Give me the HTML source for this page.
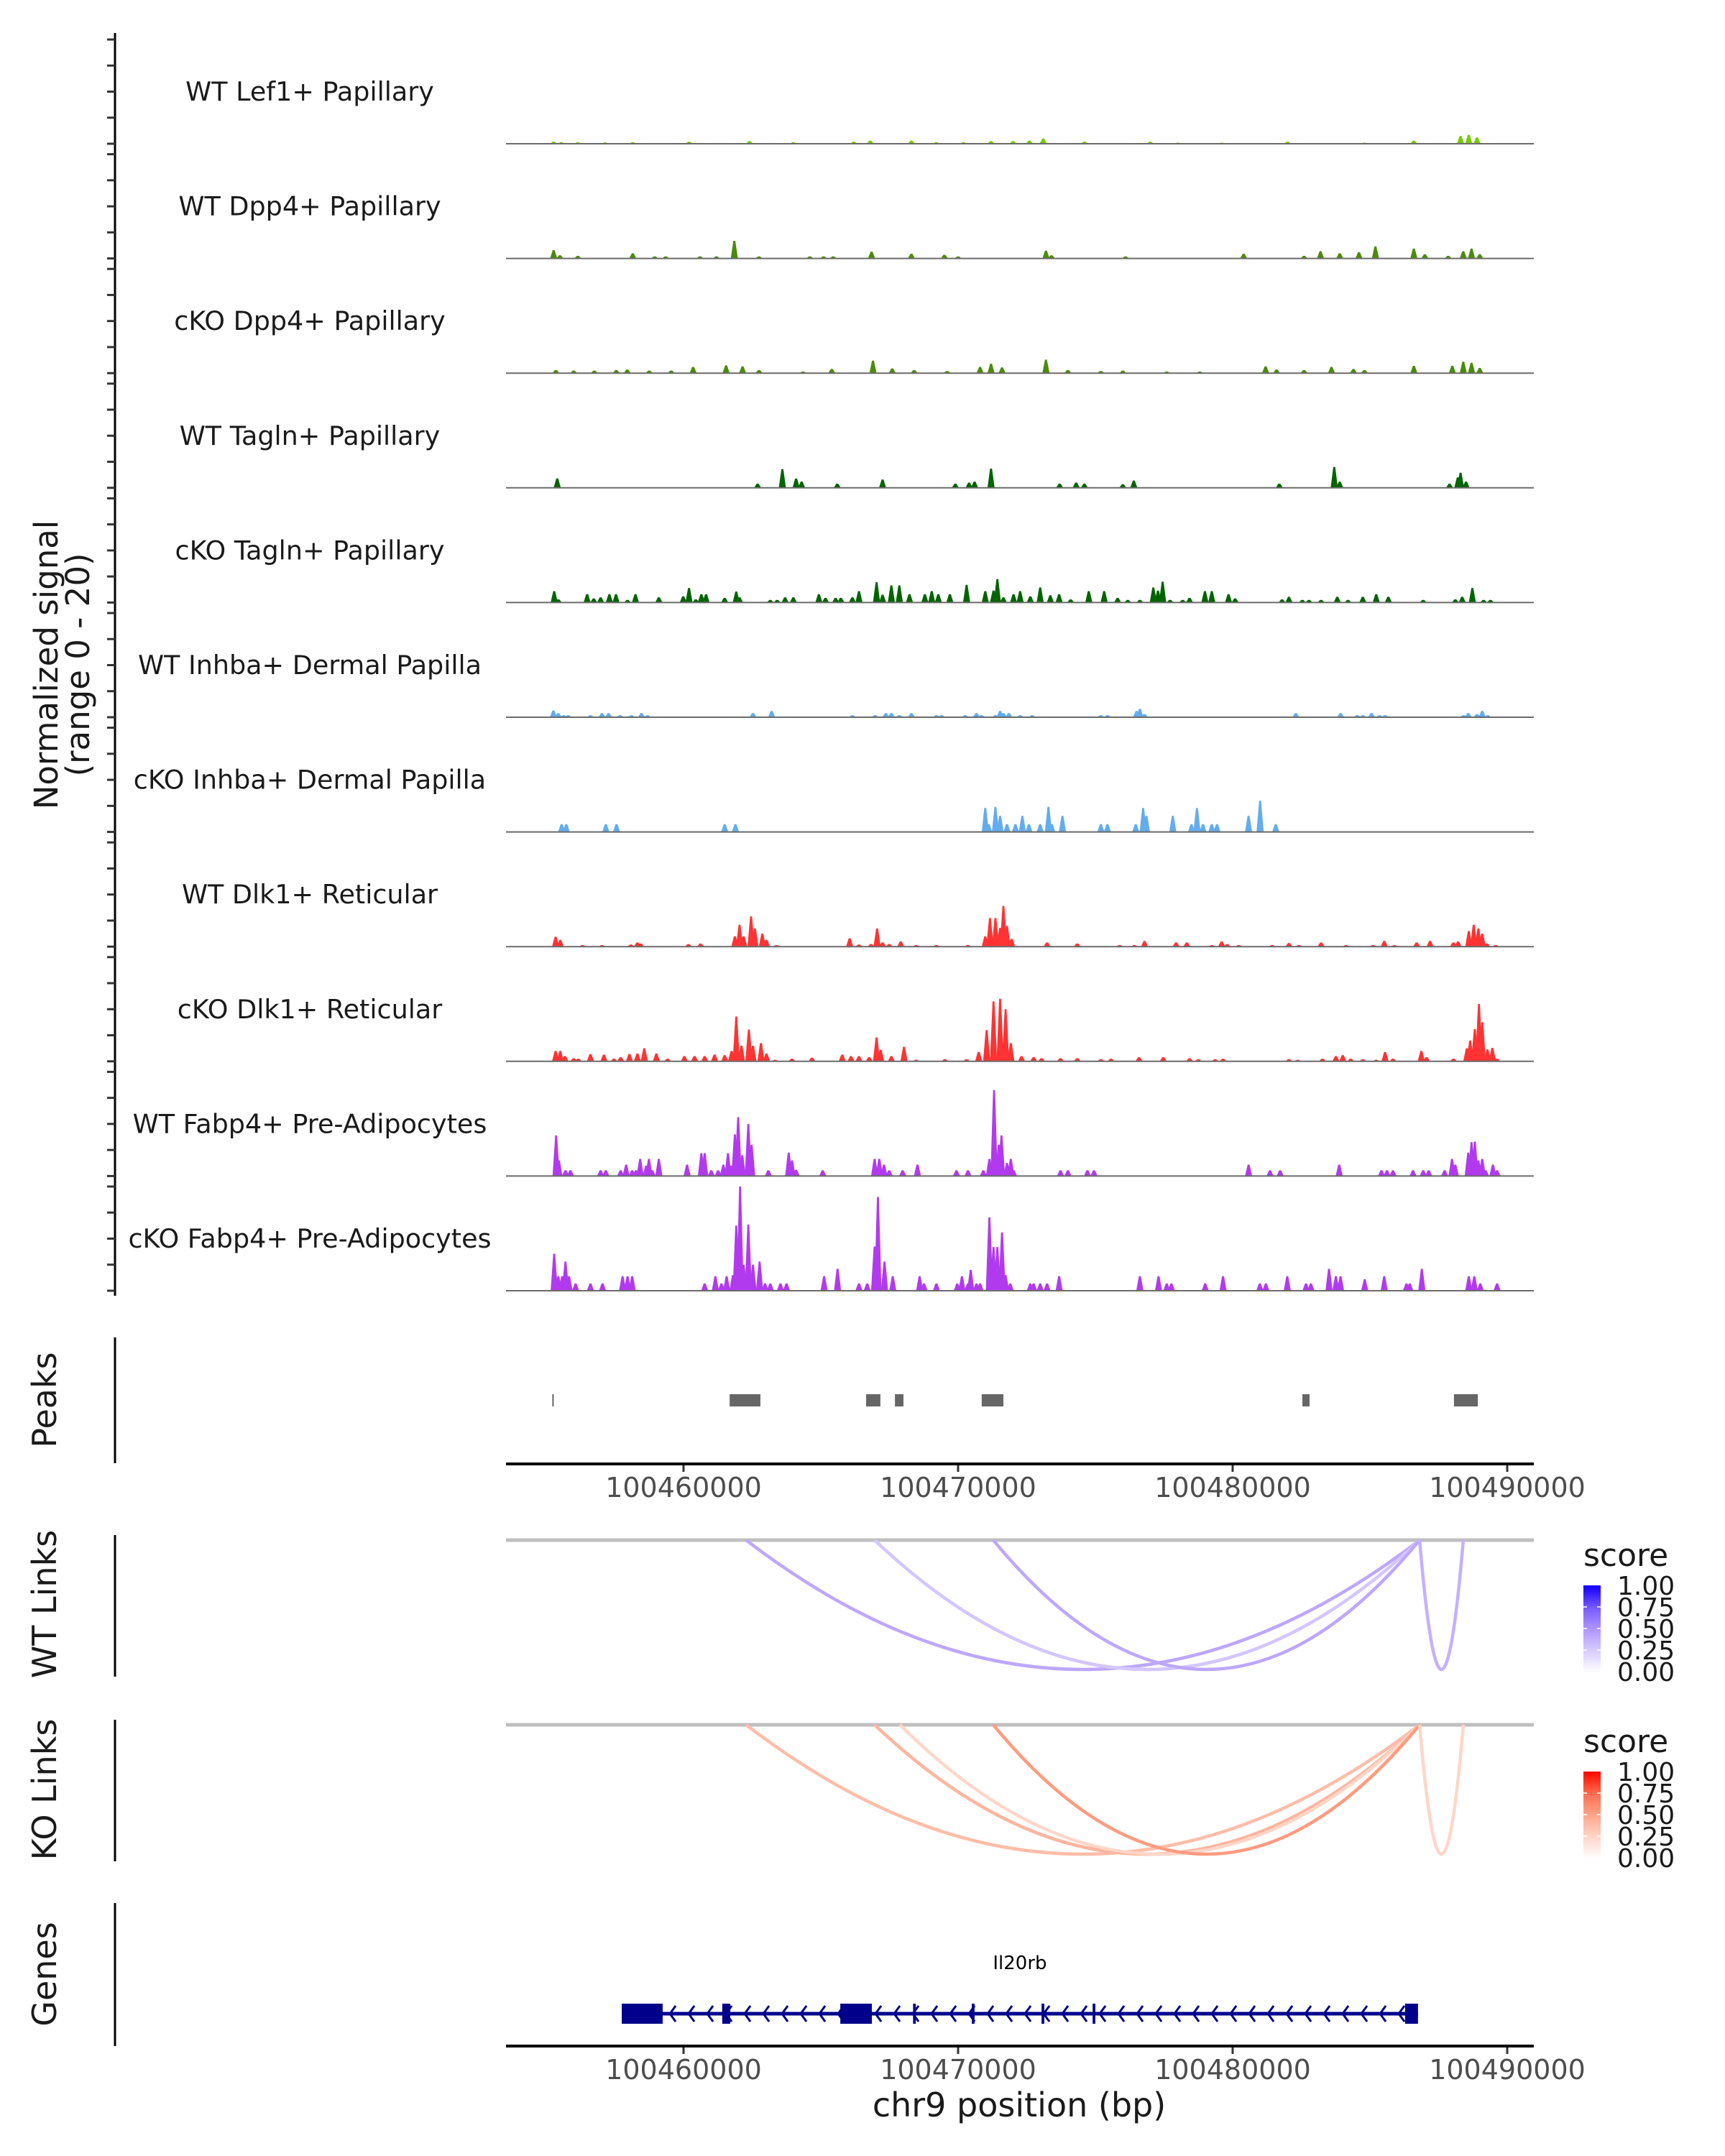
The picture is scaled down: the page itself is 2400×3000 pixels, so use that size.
<!DOCTYPE html>
<html><head><meta charset="utf-8"><style>
html,body{margin:0;padding:0;background:#fff}
svg{display:block}
text{font-family:"DejaVu Sans","Liberation Sans",sans-serif}
</style></head><body>
<svg id="chart" width="2400" height="3000" viewBox="0 0 2400 3000" xmlns="http://www.w3.org/2000/svg">
<rect width="2400" height="3000" fill="#fff"/>
<g id="tracks"></g>
<g id="peaks"></g>
<g id="links"></g>
<g id="genes"></g>
<text transform="translate(80,925) rotate(-90)" text-anchor="middle" font-size="45" fill="#1a1a1a">Normalized signal</text>
<text transform="translate(124,925) rotate(-90)" text-anchor="middle" font-size="45" fill="#1a1a1a">(range 0 - 20)</text>
<text transform="translate(78,1948) rotate(-90)" text-anchor="middle" font-size="46" fill="#1a1a1a">Peaks</text>
<text transform="translate(78,2232) rotate(-90)" text-anchor="middle" font-size="46" fill="#1a1a1a">WT Links</text>
<text transform="translate(78,2490) rotate(-90)" text-anchor="middle" font-size="46" fill="#1a1a1a">KO Links</text>
<text transform="translate(78,2747) rotate(-90)" text-anchor="middle" font-size="46" fill="#1a1a1a">Genes</text>
<text x="1418" y="2945" text-anchor="middle" font-size="46" fill="#1a1a1a">chr9 position (bp)</text>
</svg>
<script>
// ---- data (positions in kb relative to chr9:100,450,000) ----
const trackNames = ["WT Lef1+ Papillary","WT Dpp4+ Papillary","cKO Dpp4+ Papillary","WT Tagln+ Papillary","cKO Tagln+ Papillary","WT Inhba+ Dermal Papilla","cKO Inhba+ Dermal Papilla","WT Dlk1+ Reticular","cKO Dlk1+ Reticular","WT Fabp4+ Pre-Adipocytes","cKO Fabp4+ Pre-Adipocytes"];
const trackColors = ["#74cc00","#4a8c08","#4a8c08","#006400","#006400","#63acee","#63acee","#ff3333","#ff3333","#b23aee","#b23aee"];
const yTicks = [0,5,10,15,20];
const xTickValues = [100460000,100470000,100480000,100490000];
const t1 = [[5.27,.4],[5.55,.3],[6.15,.3],[7.15,.25],[8.15,.3],[10.2,.4],[12.4,.5],[14.0,.3],[16.2,.4],[16.8,.6],[18.3,.6],[19.2,.3],[20.2,.3],[21.2,.5],[22.0,.5],[22.6,.6],[23.1,1.0],[24.6,.4],[27.0,.4],[28.0,.2],[29.6,.2],[32.0,.4],[34.8,.2],[36.6,.6],[38.3,1.5],[38.6,1.7],[38.9,1.2]];
const t2 = [[5.27,1.6],[5.5,.6],[6.15,.5],[8.15,1.0],[8.95,.4],[9.35,.4],[10.6,.4],[11.2,.4],[11.85,3.4],[12.75,.4],[14.6,.4],[15.1,.4],[15.45,.4],[16.85,1.3],[18.3,.9],[19.5,.7],[20.0,.4],[23.2,1.5],[23.4,.6],[26.1,.4],[30.4,.9],[32.6,.5],[33.2,1.4],[33.9,1.0],[34.6,1.2],[35.2,2.3],[36.6,1.9],[37.0,.8],[37.85,.5],[38.4,1.4],[38.7,1.9],[39.0,.8]];
const t3 = [[5.35,.6],[6.0,.5],[6.75,.5],[7.55,.6],[7.95,.7],[8.75,.5],[9.55,.5],[10.35,1.2],[11.55,1.5],[12.15,1.3],[12.75,.6],[14.35,.3],[15.4,.8],[16.9,2.4],[17.6,.9],[18.4,.6],[19.6,.4],[20.8,1.2],[21.2,1.8],[21.6,1.1],[23.2,2.6],[24.0,.6],[25.2,.4],[26.0,.5],[27.6,.3],[28.8,.3],[31.2,1.3],[31.6,.7],[32.6,.6],[33.6,1.2],[34.4,.8],[34.8,.6],[36.6,1.4],[38.0,1.4],[38.4,2.2],[38.7,2.0],[39.0,1.0]];
const t4 = [[5.4,1.8],[12.7,.8],[13.6,3.6],[14.1,1.8],[14.3,1.2],[15.6,.8],[17.25,1.6],[19.9,.8],[20.4,1.0],[20.6,1.2],[21.2,3.7],[23.7,.8],[24.3,1.0],[24.6,.8],[26.0,.7],[26.4,1.4],[31.7,.8],[33.7,4.0],[33.9,1.2],[37.9,.8],[38.2,2.0],[38.3,2.9],[38.5,1.2]];
const t5 = [[5.29,2.2],[5.44,.6],[6.49,1.6],[6.73,.8],[6.98,1.0],[7.3,1.6],[7.54,1.6],[7.96,.5],[8.25,1.6],[9.1,1.0],[9.99,1.2],[10.2,2.8],[10.45,.6],[10.65,1.6],[10.82,1.6],[11.5,.9],[11.92,2.1],[12.04,1.0],[13.16,.5],[13.41,.5],[13.7,1.0],[14.0,1.0],[14.93,1.6],[15.17,.9],[15.54,.9],[15.73,.9],[16.15,1.0],[16.39,2.2],[17.03,3.9],[17.25,1.5],[17.57,3.3],[17.86,3.3],[18.23,1.6],[18.79,1.6],[19.04,2.2],[19.28,1.6],[19.7,1.6],[20.31,3.4],[20.99,2.2],[21.29,2.3],[21.43,4.5],[21.65,1.0],[22.02,1.6],[22.26,2.2],[22.63,1.2],[22.99,2.9],[23.36,1.4],[23.68,1.6],[24.1,.6],[24.76,2.2],[25.32,2.2],[25.81,.9],[26.18,.5],[26.62,.5],[27.11,2.9],[27.28,2.3],[27.45,4.0],[27.72,.5],[28.18,.5],[28.43,.9],[28.99,2.2],[29.24,2.2],[29.85,1.6],[30.09,.8],[31.8,.6],[32.05,1.1],[32.54,.5],[32.78,.5],[33.22,.5],[33.81,1.1],[34.2,.5],[34.74,1.1],[35.23,1.6],[35.67,1.1],[36.94,.5],[38.11,.6],[38.36,1.1],[38.73,2.8],[39.14,.5],[39.39,.5]];
const t6 = [[5.26,1.3],[5.44,.8],[5.63,.4],[5.8,.4],[6.61,.4],[7.03,.8],[7.27,.8],[7.69,.4],[8.1,.4],[8.47,.8],[8.69,.4],[12.53,.8],[13.21,1.2],[16.15,.4],[16.98,.4],[17.37,.8],[17.57,.8],[17.86,.4],[18.3,.8],[19.21,.4],[19.4,.4],[20.26,.4],[20.67,.8],[20.85,.4],[21.36,.4],[21.53,1.2],[21.65,.8],[21.85,.8],[22.26,.4],[22.7,.4],[25.2,.4],[25.44,.4],[26.5,1.2],[26.62,1.6],[26.79,.6],[32.3,.8],[33.93,.8],[34.54,.4],[34.74,.4],[35.06,.8],[35.35,.4],[35.55,.4],[38.41,.4],[38.58,.8],[38.9,.6],[39.09,1.2],[39.29,.4]];
const t7 = [[5.56,1.5],[5.73,1.5],[7.17,1.5],[7.56,1.5],[11.5,1.5],[11.89,1.5],[20.99,4.6],[21.11,1.5],[21.36,4.8],[21.53,3.1],[21.78,1.5],[22.09,1.5],[22.34,3.1],[22.58,1.5],[22.99,1.5],[23.29,4.8],[23.41,1.5],[23.8,3.1],[25.2,1.5],[25.44,1.5],[26.47,1.5],[26.74,4.6],[26.86,3.1],[27.82,3.1],[28.5,1.5],[28.7,4.6],[28.92,1.5],[29.24,1.5],[29.43,1.5],[30.58,3.1],[31.0,6.0],[31.57,1.5]];
const t8 = [[5.34,1.9],[5.51,1.3],[6.32,.3],[7.03,.3],[8.08,.4],[8.32,.8],[8.44,.6],[10.18,.5],[10.62,.6],[11.87,2.0],[12.04,4.2],[12.19,2.0],[12.46,5.8],[12.6,3.5],[12.87,2.5],[13.02,1.3],[13.39,.3],[16.05,1.6],[16.39,.4],[16.83,.5],[17.05,3.5],[17.25,.8],[17.49,.5],[17.91,1.0],[18.47,.3],[19.21,.3],[20.36,.3],[20.99,2.0],[21.16,5.5],[21.36,5.5],[21.53,3.6],[21.65,7.8],[21.78,4.0],[21.95,1.5],[23.24,.8],[24.34,.6],[25.88,.3],[26.42,.3],[26.79,1.1],[27.94,.8],[28.33,.8],[29.24,.3],[29.6,1.0],[29.8,.5],[30.22,.3],[31.44,.3],[32.05,.7],[32.41,.3],[33.22,.8],[34.13,.3],[35.11,.3],[35.52,1.1],[35.89,.3],[36.7,.8],[37.19,1.1],[38.04,.8],[38.21,1.0],[38.6,3.0],[38.78,4.2],[38.95,3.5],[39.09,2.5],[39.26,.6],[39.58,.3]];
const t9 = [[5.34,2.0],[5.51,2.0],[5.68,1.0],[6.0,.6],[6.17,.5],[6.61,1.4],[7.1,1.3],[7.47,.5],[7.71,.8],[8.03,1.4],[8.32,1.5],[8.57,2.5],[9.01,1.5],[9.42,.5],[10.03,1.0],[10.4,1.0],[10.77,1.0],[11.13,1.3],[11.5,1.2],[11.75,2.0],[11.92,8.6],[12.11,3.0],[12.38,6.1],[12.53,3.0],[12.82,3.5],[13.02,1.5],[13.34,.3],[13.95,.5],[14.68,.7],[15.78,1.3],[16.1,1.0],[16.39,1.0],[16.76,.8],[17.03,4.6],[17.18,2.2],[17.57,1.0],[18.03,2.8],[18.47,.3],[19.52,.4],[20.31,.4],[20.75,1.8],[21.04,6.0],[21.29,11.5],[21.53,12.0],[21.73,10.0],[21.92,3.5],[22.31,1.0],[22.75,.8],[23.04,.6],[23.73,.6],[24.34,.6],[25.2,.4],[25.57,.5],[26.59,.8],[27.47,.8],[28.43,.6],[28.75,.4],[29.36,.4],[29.65,.5],[32.05,.4],[32.37,.3],[33.27,.5],[33.76,1.0],[34.01,1.2],[34.3,.5],[34.74,.4],[35.23,.3],[35.55,1.8],[35.84,.5],[36.87,2.0],[37.06,.8],[38.04,.5],[38.53,2.5],[38.65,4.0],[38.82,6.2],[38.97,11.0],[39.09,7.5],[39.28,2.3],[39.46,2.6],[39.63,.5]];
const t10 = [[5.36,7.8],[5.46,3.0],[5.7,1.1],[5.88,1.1],[6.98,1.1],[7.17,1.1],[7.71,1.1],[7.91,2.2],[8.13,1.1],[8.27,1.1],[8.42,3.3],[8.64,2.0],[8.74,3.3],[8.86,1.1],[9.1,3.3],[10.13,2.2],[10.65,4.4],[10.77,4.4],[11.01,1.1],[11.26,1.1],[11.45,2.2],[11.62,4.4],[11.75,2.0],[11.87,8.0],[11.99,11.3],[12.14,4.0],[12.36,10.0],[12.48,6.0],[13.09,1.1],[13.83,4.5],[13.95,3.0],[14.1,1.2],[15.07,1.1],[16.96,3.3],[17.13,3.3],[17.3,2.2],[17.49,1.1],[17.98,1.1],[18.52,2.2],[19.94,1.1],[20.36,1.1],[20.92,1.1],[21.14,3.3],[21.31,16.5],[21.48,6.0],[21.58,7.8],[21.78,2.5],[21.92,3.3],[22.02,1.1],[23.73,1.1],[24.0,1.1],[24.71,1.1],[24.95,1.1],[30.58,2.2],[31.36,1.1],[31.73,1.1],[33.88,2.2],[35.42,1.1],[35.62,1.1],[35.84,1.1],[36.57,1.1],[36.94,1.1],[37.14,1.1],[37.72,1.1],[37.99,3.3],[38.11,2.2],[38.58,4.5],[38.7,6.5],[38.82,6.6],[38.95,3.0],[39.09,3.3],[39.21,1.1],[39.48,2.2],[39.63,1.1]];
const t11 = [[5.29,7.1],[5.44,2.8],[5.58,2.8],[5.7,5.6],[5.83,2.8],[6.07,1.4],[6.61,1.4],[7.05,1.4],[7.78,2.8],[7.96,2.8],[8.13,2.8],[10.77,1.4],[11.16,2.8],[11.38,1.4],[11.57,2.8],[11.8,3.0],[11.92,12.5],[12.06,20.0],[12.19,5.0],[12.36,12.7],[12.53,5.0],[12.77,5.6],[12.97,1.4],[13.16,1.4],[13.53,1.4],[13.75,1.4],[15.12,2.8],[15.61,4.2],[16.39,1.4],[16.69,1.4],[16.96,8.5],[17.08,18.0],[17.32,5.6],[17.62,2.8],[18.6,2.8],[18.76,1.4],[19.21,1.4],[19.97,1.4],[20.14,2.8],[20.36,1.4],[20.46,4.0],[20.67,1.4],[20.8,1.4],[21.14,14.1],[21.29,8.4],[21.43,8.4],[21.6,11.2],[21.73,3.0],[21.9,1.4],[22.63,1.4],[22.75,1.4],[22.99,1.4],[23.24,1.4],[23.68,2.8],[26.62,2.8],[27.3,2.8],[27.6,1.4],[27.77,1.4],[29.0,1.4],[29.65,2.8],[30.99,1.4],[31.21,1.4],[31.99,2.8],[32.67,1.4],[32.85,1.4],[33.51,4.2],[33.76,2.8],[33.93,2.8],[34.81,2.2],[35.52,2.8],[36.33,1.4],[36.45,1.4],[36.89,4.2],[38.6,2.8],[38.8,2.8],[39.02,1.4],[39.63,1.4]];
const trackData = [t1,t2,t3,t4,t5,t6,t7,t8,t9,t10,t11];
const peakStarts = [5.22,11.68,16.65,17.70,20.86,32.54,38.06];
const peakEnds   = [5.27,12.80,17.17,18.01,21.65,32.80,38.93];
const wtLinkStart = [12.28,16.96,21.28,36.81];
const wtLinkEnd   = [36.81,36.81,36.81,38.40];
const wtLinkScore = [0.42,0.28,0.42,0.38];
const koLinkStart = [12.28,16.96,17.88,21.28,36.81];
const koLinkEnd   = [36.81,36.81,36.81,36.81,38.40];
const koLinkScore = [0.38,0.42,0.25,0.55,0.25];
const legendTicks = [0,0.25,0.5,0.75,1];
const exonStarts = [7.75,11.41,15.71,18.36,20.50,23.04,24.90,36.28];
const exonEnds   = [9.24,11.70,16.86,18.46,20.60,23.14,25.00,36.75];
const geneStart = 7.75, geneEnd = 36.75;
const geneName = "Il20rb";

// ---- scales ----
const NS = "http://www.w3.org/2000/svg";
const X0 = 704, X1 = 2134;
function xs(kb){ return 951 + (kb - 10) * 38.2; }
function xbp(bp){ return xs((bp - 100450000) / 1000); }
function base(i){ return 200 + 159.6 * i; }
const TRACK_H = 145;
function ys(i, v){ return base(i) - v / 20 * TRACK_H; }
function mk(tag, attrs, parent){ const e = document.createElementNS(NS, tag); for (const k in attrs) e.setAttribute(k, attrs[k]); parent.appendChild(e); return e; }
function fmt(v){ return v.toFixed(2); }

// ---- coverage tracks ----
const tracksG = document.getElementById('tracks');
const leftAxis = mk('line', {x1:160, y1:46, x2:160, y2:1803, stroke:'#000', 'stroke-width':3}, tracksG);


trackData.forEach((data, i) => {
  const g = mk('g', {}, tracksG);
  
  
  yTicks.forEach(t => {
    const tk = mk('line', {x1:149, x2:160, y1:ys(i,t), y2:ys(i,t), stroke:'#333', 'stroke-width':3}, g);
    
    
  });
  const lab = mk('text', {x:431, y:base(i) - 60, 'text-anchor':'middle', 'font-size':36.5, fill:'#1a1a1a'}, g);
  lab.textContent = trackNames[i];
  
  
  const b = base(i);
  data.forEach(p => {
    const x = xs(p[0]), y = ys(i, p[1]);
    const hw = 0.13 * 38.2, tw = 0.035 * 38.2;
    const poly = mk('polygon', {points:`${x-hw},${b} ${x-tw},${y} ${x+tw},${y} ${x+hw},${b}`, fill:trackColors[i]}, g);
    
    
  });
  const bl = mk('line', {x1:X0, x2:X1, y1:b, y2:b, stroke:'#6b6b6b', 'stroke-width':2}, g);
  
  
});

// ---- x axis helper ----
function xAxis(parent, y, name){
  const g = mk('g', {}, parent);
  
  
  mk('line', {x1:X0, x2:X1, y1:y, y2:y, stroke:'#000', 'stroke-width':4}, g);
  xTickValues.forEach(v => {
    const x = xbp(v);
    const tk = mk('line', {x1:x, x2:x, y1:y+2, y2:y+11, stroke:'#333', 'stroke-width':3}, g);
    
    
    const t = mk('text', {x:x, y:y+46, 'text-anchor':'middle', 'font-size':38, fill:'#4d4d4d'}, g);
    t.textContent = String(v);
    
    
  });
}

// ---- peaks ----
const peaksG = document.getElementById('peaks');
const pAx = mk('line', {x1:160, y1:1861, x2:160, y2:2036, stroke:'#000', 'stroke-width':3}, peaksG);


peakStarts.forEach((s, i) => {
  const x = xs(s), w = Math.max(2, xs(peakEnds[i]) - x);
  const r = mk('rect', {x:x, y:1940, width:w, height:17, fill:'#666'}, peaksG);
  
  
});
xAxis(peaksG, 2037, 'peaks-x-axis');

// ---- links ----
function lerp(a, b, t){ return Math.round(a + (b - a) * t); }
function grad(stops, v){
  const n = stops.length - 1, p = Math.min(n - 1e-9, Math.max(0, v * n)), k = Math.floor(p), t = p - k;
  const A = stops[k], B = stops[k + 1];
  return `rgb(${lerp(A[0],B[0],t)},${lerp(A[1],B[1],t)},${lerp(A[2],B[2],t)})`;
}
const blueStops = [[255,255,255],[217,204,255],[176,150,255],[120,90,255],[20,0,255]];
const redStops = [[255,255,255],[255,214,200],[255,166,140],[255,110,80],[255,10,0]];
const linksG = document.getElementById('links');
function linkPanel(top, starts, ends, scores, stops, name, legendTop){
  const g = mk('g', {}, linksG);
  
  
  const ax = mk('line', {x1:160, y1:top - 7, x2:160, y2:top + 190, stroke:'#000', 'stroke-width':3}, g);
  
  
  const gl = mk('line', {x1:X0, x2:X1, y1:top, y2:top, stroke:'#bfbfbf', 'stroke-width':5}, g);
  
  
  const depth = 180;
  starts.forEach((s, i) => {
    const a = xs(s), b = xs(ends[i]), m = (a + b) / 2;
    const p = mk('path', {d:`M${a},${top} Q${m},${top + 2 * depth} ${b},${top}`, fill:'none', stroke:grad(stops, scores[i]), 'stroke-width':4.5}, g);
    
    
  });
  const lg = mk('g', {}, g);
  
  
  const st = mk('text', {x:2203, y:legendTop - 27, 'font-size':44, fill:'#1a1a1a'}, lg);
  st.textContent = 'score';
  
  
  const h = 120, n = 40;
  for (let k = 0; k < n; k++) {
    const v = 1 - k / n;
    const r = mk('rect', {x:2203, y:legendTop + k * h / n, width:24, height:h / n + 0.6, fill:grad(stops, v)}, lg);
    
    
  }
  legendTicks.forEach(v => {
    const y = legendTop + (1 - v) * h;
    if (v > 0 && v < 1) {
      mk('line', {x1:2203, x2:2208, y1:y, y2:y, stroke:'#fff', 'stroke-width':1.5}, lg);
      mk('line', {x1:2222, x2:2227, y1:y, y2:y, stroke:'#fff', 'stroke-width':1.5}, lg);
    }
    const t = mk('text', {x:2250, y:y + 13, 'font-size':36, fill:'#1a1a1a'}, lg);
    t.textContent = fmt(v);
    
    
  });
}
linkPanel(2143, wtLinkStart, wtLinkEnd, wtLinkScore, blueStops, 'wt-links-panel', 2206);
linkPanel(2400, koLinkStart, koLinkEnd, koLinkScore, redStops, 'ko-links-panel', 2465);

// ---- genes ----
const genesG = document.getElementById('genes');
const gAx = mk('line', {x1:160, y1:2648, x2:160, y2:2847, stroke:'#000', 'stroke-width':3}, genesG);


const GY = 2802, GC = '#00008b';
const gl = mk('line', {x1:xs(geneStart), x2:xs(geneEnd), y1:GY, y2:GY, stroke:GC, 'stroke-width':5}, genesG);


for (let x = xs(geneStart) + 70; x < xs(geneEnd) - 12; x += 26) {
  const c = mk('polyline', {points:`${x+5},${GY-11} ${x-3},${GY} ${x+5},${GY+11}`, fill:'none', stroke:GC, 'stroke-width':3}, genesG);
  
  
}
exonStarts.forEach((s, i) => {
  const r = mk('rect', {x:xs(s), y:GY - 14, width:xs(exonEnds[i]) - xs(s), height:28, fill:GC}, genesG);
  
  
});
const gn = mk('text', {x:(xs(geneStart) + xs(geneEnd)) / 2, y:2740, 'text-anchor':'middle', 'font-size':26, fill:'#000'}, genesG);
gn.textContent = geneName;


xAxis(genesG, 2847, 'genes-x-axis');
</script>
</body></html>
